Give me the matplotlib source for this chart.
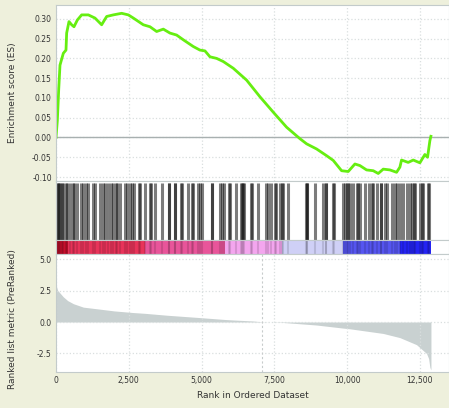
import numpy as np
import matplotlib
matplotlib.use("Agg")
import matplotlib.pyplot as plt
from matplotlib.colors import ListedColormap, BoundaryNorm

## donnees lues sur l'image
# courbe d'enrichissement (rang, ES)
es_rank = [0, 46, 92, 137, 252, 343, 366, 446, 538, 618, 733, 881, 1110, 1339,
           1568, 1740, 1969, 2255, 2484, 2656, 2999, 3228, 3457, 3686, 3915,
           4144, 4373, 4716, 4945, 5117, 5289, 5518, 5747, 6090, 6548, 7005,
           7463, 7921, 8379, 8608, 8951, 9295, 9524, 9810, 10039, 10268, 10440,
           10668, 10897, 11069, 11241, 11470, 11699, 11813, 11870, 12099, 12271,
           12500, 12671, 12763, 12843, 12878]
es_val = [0.0, 0.043, 0.12, 0.183, 0.213, 0.221, 0.264, 0.293, 0.285, 0.28,
          0.297, 0.31, 0.31, 0.302, 0.285, 0.306, 0.31, 0.314, 0.31, 0.302,
          0.285, 0.28, 0.268, 0.274, 0.264, 0.259, 0.247, 0.23, 0.221, 0.219,
          0.204, 0.2, 0.192, 0.175, 0.145, 0.103, 0.064, 0.026, -0.003, -0.016,
          -0.029, -0.046, -0.058, -0.084, -0.086, -0.067, -0.071, -0.082,
          -0.084, -0.091, -0.08, -0.082, -0.088, -0.075, -0.057, -0.063,
          -0.057, -0.064, -0.043, -0.05, -0.008, 0.003]

# positions des genes du set dans la liste ordonnee
hits = [23, 60, 114, 150, 195, 250, 343, 390, 481, 584, 618, 733, 847, 916,
        1019, 1110, 1271, 1339, 1500, 1603, 1694, 1797, 1877, 1969, 2050, 2106,
        2186, 2358, 2450, 2530, 2598, 2679, 2862, 2885, 3046, 3228, 3274, 3400,
        3640, 3880, 3892, 4076, 4087, 4282, 4316, 4544, 4660, 4693, 4888, 4945,
        5002, 5346, 5369, 5632, 5690, 5769, 5952, 5975, 6181, 6342, 6376, 6433,
        6467, 6685, 6719, 6948, 7211, 7291, 7372, 7521, 7555, 7692, 7750, 7807,
        7978, 8585, 8609, 8631, 8894, 9158, 9262, 9272, 9524, 9547, 9867, 9925,
        10005, 10017, 10096, 10211, 10325, 10383, 10440, 10611, 10760, 10863,
        10875, 11012, 11149, 11161, 11298, 11355, 11527, 11642, 11699, 11813,
        11927, 12043, 12156, 12215, 12294, 12328, 12500, 12580, 12614, 12786,
        12820]

# metrique de classement (rang, valeur)
metric_rank = [0, 20, 60, 137, 250, 366, 400, 600, 939, 1511, 2000, 2656, 3050,
               3800, 4945, 5800, 6090, 6777, 7063, 7760, 8951, 9850, 10096,
               11241, 11813, 12385, 12729, 12800, 12843, 12880]
metric_val = [3.1, 2.8, 2.5, 2.3, 2.0, 1.77, 1.7, 1.45, 1.18, 1.02, 0.88, 0.75,
              0.69, 0.54, 0.35, 0.2, 0.16, 0.08, 0.02, -0.03, -0.24, -0.48,
              -0.54, -0.91, -1.24, -1.8, -2.5, -2.9, -3.6, -3.8]
zero_cross = 7063

x_ticks = [0, 2500, 5000, 7500, 10000, 12500]
x_labels = ["0", "2,500", "5,000", "7,500", "10,000", "12,500"]
es_ticks = [-0.10, -0.05, 0.00, 0.05, 0.10, 0.15, 0.20, 0.25, 0.30]
rk_ticks = [-2.5, 0.0, 2.5, 5.0]

## figure
beige = "#eef0dc"
grille = "#d9dfdf"
bord = "#c3cbcb"
texte = "#333333"

fig = plt.figure(figsize=(4.49, 4.08), dpi=100, facecolor=beige)
l, w = 56 / 449, 393 / 449
ax_es = fig.add_axes([l, 1 - 181 / 408, w, 176 / 408])
ax_hit = fig.add_axes([l, 1 - 240 / 408, w, 59 / 408])
ax_cb = fig.add_axes([l, 1 - 254 / 408, w, 14 / 408])
ax_rk = fig.add_axes([l, 1 - 372 / 408, w, 118 / 408])

for ax in (ax_es, ax_hit, ax_cb, ax_rk):
    ax.set_xlim(0, 13500)
    ax.set_facecolor("white")
    for s in ax.spines.values():
        s.set_color(bord)
        s.set_linewidth(0.8)
    ax.tick_params(length=0, labelsize=5.5, labelcolor=texte, pad=3)
    ax.set_xticks(x_ticks)

# panneau ES
ax_es.set_ylim(-0.110, 0.335)
ax_es.set_yticks(es_ticks)
ax_es.set_yticklabels(["%.2f" % v for v in es_ticks])
ax_es.set_xticklabels([])
ax_es.grid(True, color=grille, linestyle=":", linewidth=0.9)
ax_es.axhline(0, color="#a8b0b0", linewidth=1)
ax_es.plot(es_rank, es_val, color="#66ee11", linewidth=2)
ax_es.set_ylabel("Enrichment score (ES)", fontsize=6.5, color=texte, labelpad=4)

# panneau des hits
ax_hit.set_ylim(0, 1)
ax_hit.set_xticks([])
ax_hit.set_yticks([])
ax_hit.vlines(hits, 0, 0.97, color="#111111", linewidth=2.2, alpha=0.55)

# barre de couleur
couleurs = ["#2424f2", "#5656f0", "#cfd0f6", "#f3a6ee", "#e8559a", "#e8345a", "#c8102e"]
bornes = [-10, -1.0, -0.47, -0.02, 0.21, 0.7, 1.71, 10]
cmap = ListedColormap(couleurs)
norm = BoundaryNorm(bornes, cmap.N)
ax_cb.pcolormesh(metric_rank, [0, 1], np.array([metric_val[:-1]]), cmap=cmap, norm=norm)
ax_cb.vlines(hits, 0, 1, color="black", linewidth=1.5, alpha=0.12)
ax_cb.set_ylim(0, 1)
ax_cb.set_xticks([])
ax_cb.set_yticks([])

# panneau de la metrique
ax_rk.set_ylim(-3.97, 5.4)
ax_rk.set_yticks(rk_ticks)
ax_rk.set_yticklabels(["%.1f" % v for v in rk_ticks])
ax_rk.set_xticklabels(x_labels)
ax_rk.grid(True, color=grille, linestyle=":", linewidth=0.9)
ax_rk.fill_between(metric_rank, 0, metric_val, color="#c9d1d1", linewidth=0)
ax_rk.axvline(zero_cross, color="#c8cccc", linestyle=(0, (2, 2)), linewidth=0.8)
ax_rk.set_ylabel("Ranked list metric (PreRanked)", fontsize=6.5, color=texte, labelpad=4)
ax_rk.yaxis.set_label_coords(-0.098, 0.45)
ax_es.yaxis.set_label_coords(-0.098, 0.5)
ax_rk.set_xlabel("Rank in Ordered Dataset", fontsize=6.5, color=texte, labelpad=4)

fig.savefig("out.png", dpi=100, facecolor=beige)
